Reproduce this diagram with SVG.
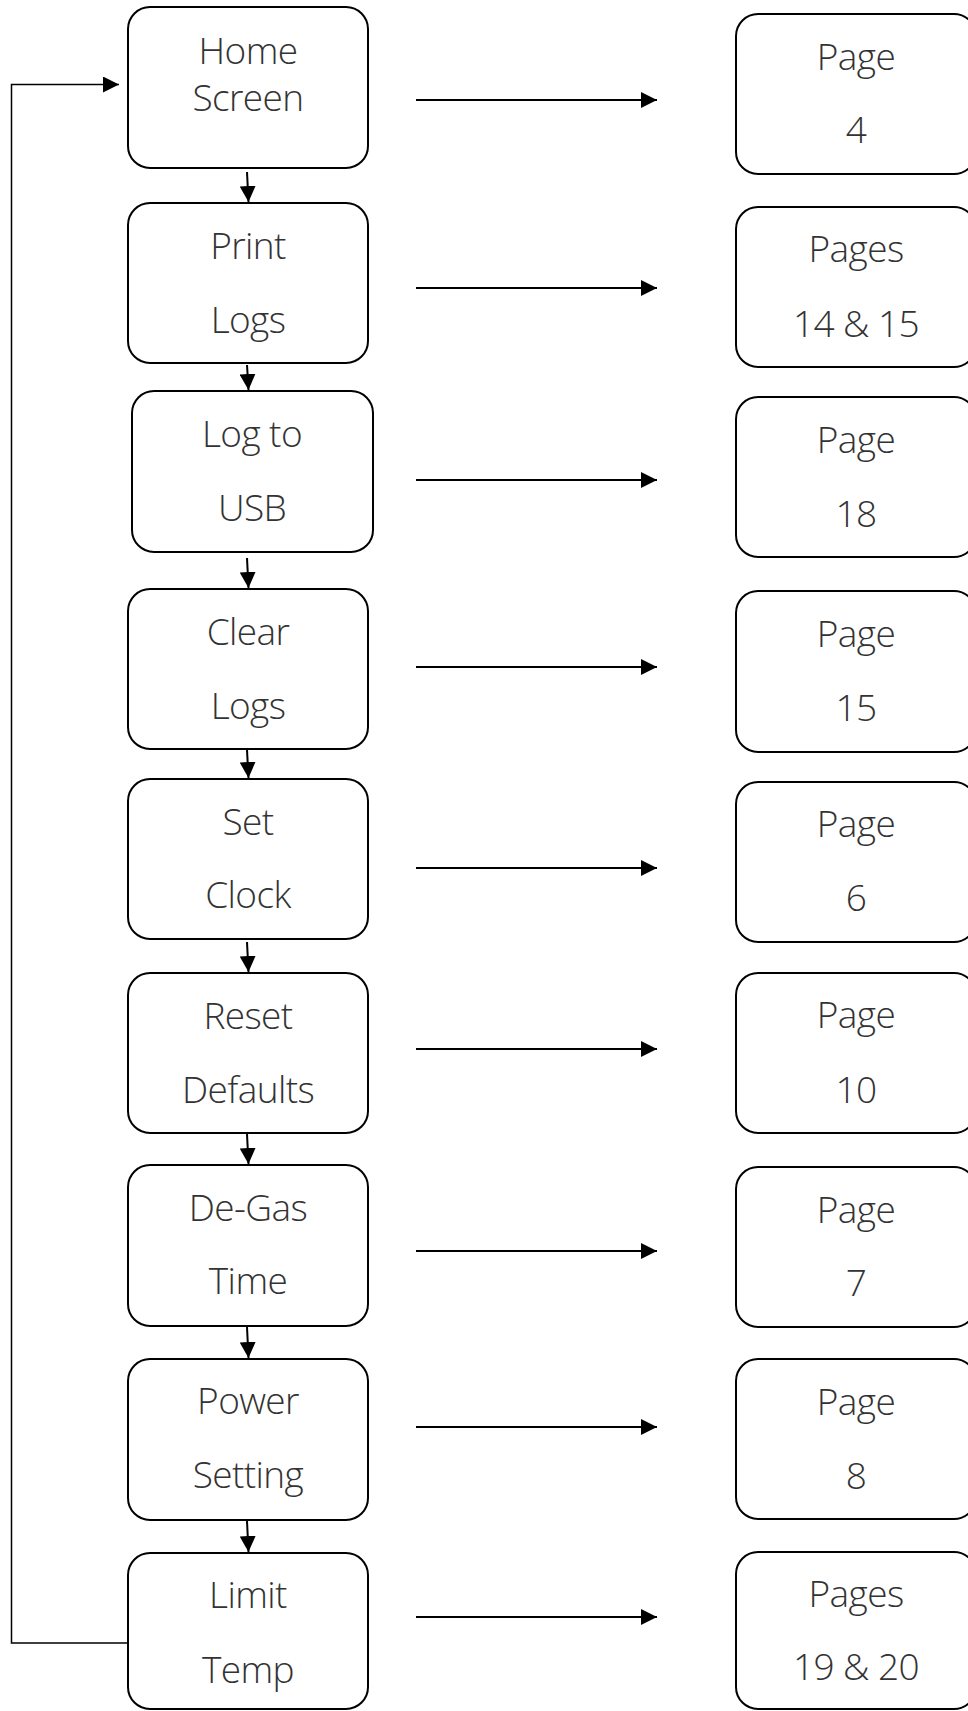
<svg xmlns="http://www.w3.org/2000/svg" width="968" height="1711" viewBox="0 0 968 1711">
<defs>
<style>
.box{fill:#fff;stroke:#000;stroke-width:2}
.t{font-family:"Open Sans","Liberation Sans",sans-serif;font-weight:300;font-size:37px;letter-spacing:-0.6px;fill:#333;text-anchor:middle}
.c{fill:none;stroke:#000;stroke-width:2}
.fb{fill:none;stroke:#000;stroke-width:1.5}
</style>
<marker id="ah" markerUnits="userSpaceOnUse" markerWidth="16" markerHeight="16" refX="16" refY="8" orient="auto" viewBox="0 0 16 16">
<path d="M0,0 L16,8 L0,16 Z" fill="#000"/>
</marker>
</defs>
<rect width="968" height="1711" fill="#fff"/>
<g id="connectors">
<path class="fb" d="M128,1643 H11.5 V84.5 H119" marker-end="url(#ah)"/>
<line class="c" x1="247" y1="172" x2="248.5" y2="202" marker-end="url(#ah)"/>
<line class="c" x1="247" y1="365" x2="248.5" y2="390" marker-end="url(#ah)"/>
<line class="c" x1="247" y1="558" x2="248.5" y2="588" marker-end="url(#ah)"/>
<line class="c" x1="247" y1="750" x2="248.5" y2="778" marker-end="url(#ah)"/>
<line class="c" x1="247" y1="942" x2="248.5" y2="972" marker-end="url(#ah)"/>
<line class="c" x1="247" y1="1134" x2="248.5" y2="1164" marker-end="url(#ah)"/>
<line class="c" x1="247" y1="1327" x2="248.5" y2="1358" marker-end="url(#ah)"/>
<line class="c" x1="247" y1="1521" x2="248.5" y2="1552" marker-end="url(#ah)"/>
<line class="c" x1="416" y1="100" x2="657" y2="100" marker-end="url(#ah)"/>
<line class="c" x1="416" y1="288" x2="657" y2="288" marker-end="url(#ah)"/>
<line class="c" x1="416" y1="480" x2="657" y2="480" marker-end="url(#ah)"/>
<line class="c" x1="416" y1="667" x2="657" y2="667" marker-end="url(#ah)"/>
<line class="c" x1="416" y1="868" x2="657" y2="868" marker-end="url(#ah)"/>
<line class="c" x1="416" y1="1049" x2="657" y2="1049" marker-end="url(#ah)"/>
<line class="c" x1="416" y1="1251" x2="657" y2="1251" marker-end="url(#ah)"/>
<line class="c" x1="416" y1="1427" x2="657" y2="1427" marker-end="url(#ah)"/>
<line class="c" x1="416" y1="1617" x2="657" y2="1617" marker-end="url(#ah)"/>
</g>
<g id="home"><rect class="box" x="128" y="7" width="240" height="161" rx="22"/><text class="t" x="248" y="64">Home</text><text class="t" x="248" y="111">Screen</text></g>
<g id="print"><rect class="box" x="128" y="203" width="240" height="160" rx="22"/><text class="t" x="248" y="259">Print</text><text class="t" x="248" y="333">Logs</text></g>
<g id="usb"><rect class="box" x="132" y="391" width="241" height="161" rx="22"/><text class="t" x="252" y="447">Log to</text><text class="t" x="252" y="521">USB</text></g>
<g id="clear"><rect class="box" x="128" y="589" width="240" height="160" rx="22"/><text class="t" x="248" y="645">Clear</text><text class="t" x="248" y="719">Logs</text></g>
<g id="clock"><rect class="box" x="128" y="779" width="240" height="160" rx="22"/><text class="t" x="248" y="835">Set</text><text class="t" x="248" y="908">Clock</text></g>
<g id="reset"><rect class="box" x="128" y="973" width="240" height="160" rx="22"/><text class="t" x="248" y="1029">Reset</text><text class="t" x="248" y="1103">Defaults</text></g>
<g id="degas"><rect class="box" x="128" y="1165" width="240" height="161" rx="22"/><text class="t" x="248" y="1221">De-Gas</text><text class="t" x="248" y="1294">Time</text></g>
<g id="power"><rect class="box" x="128" y="1359" width="240" height="161" rx="22"/><text class="t" x="248" y="1414">Power</text><text class="t" x="248" y="1488">Setting</text></g>
<g id="limit"><rect class="box" x="128" y="1553" width="240" height="156" rx="22"/><text class="t" x="248" y="1608">Limit</text><text class="t" x="248" y="1683">Temp</text></g>
<g id="p4"><rect class="box" x="736" y="14" width="240" height="160" rx="22"/><text class="t" x="856" y="70">Page</text><text class="t" x="856" y="143">4</text></g>
<g id="p14"><rect class="box" x="736" y="207" width="240" height="160" rx="22"/><text class="t" x="856" y="262">Pages</text><text class="t" x="856" y="337">14 &amp; 15</text></g>
<g id="p18"><rect class="box" x="736" y="397" width="240" height="160" rx="22"/><text class="t" x="856" y="453">Page</text><text class="t" x="856" y="527">18</text></g>
<g id="p15"><rect class="box" x="736" y="591" width="240" height="161" rx="22"/><text class="t" x="856" y="647">Page</text><text class="t" x="856" y="721">15</text></g>
<g id="p6"><rect class="box" x="736" y="782" width="240" height="160" rx="22"/><text class="t" x="856" y="837">Page</text><text class="t" x="856" y="911">6</text></g>
<g id="p10"><rect class="box" x="736" y="973" width="240" height="160" rx="22"/><text class="t" x="856" y="1028">Page</text><text class="t" x="856" y="1103">10</text></g>
<g id="p7"><rect class="box" x="736" y="1167" width="240" height="160" rx="22"/><text class="t" x="856" y="1223">Page</text><text class="t" x="856" y="1296">7</text></g>
<g id="p8"><rect class="box" x="736" y="1359" width="240" height="160" rx="22"/><text class="t" x="856" y="1415">Page</text><text class="t" x="856" y="1489">8</text></g>
<g id="p19"><rect class="box" x="736" y="1552" width="240" height="157" rx="22"/><text class="t" x="856" y="1607">Pages</text><text class="t" x="856" y="1680">19 &amp; 20</text></g>
</svg>
